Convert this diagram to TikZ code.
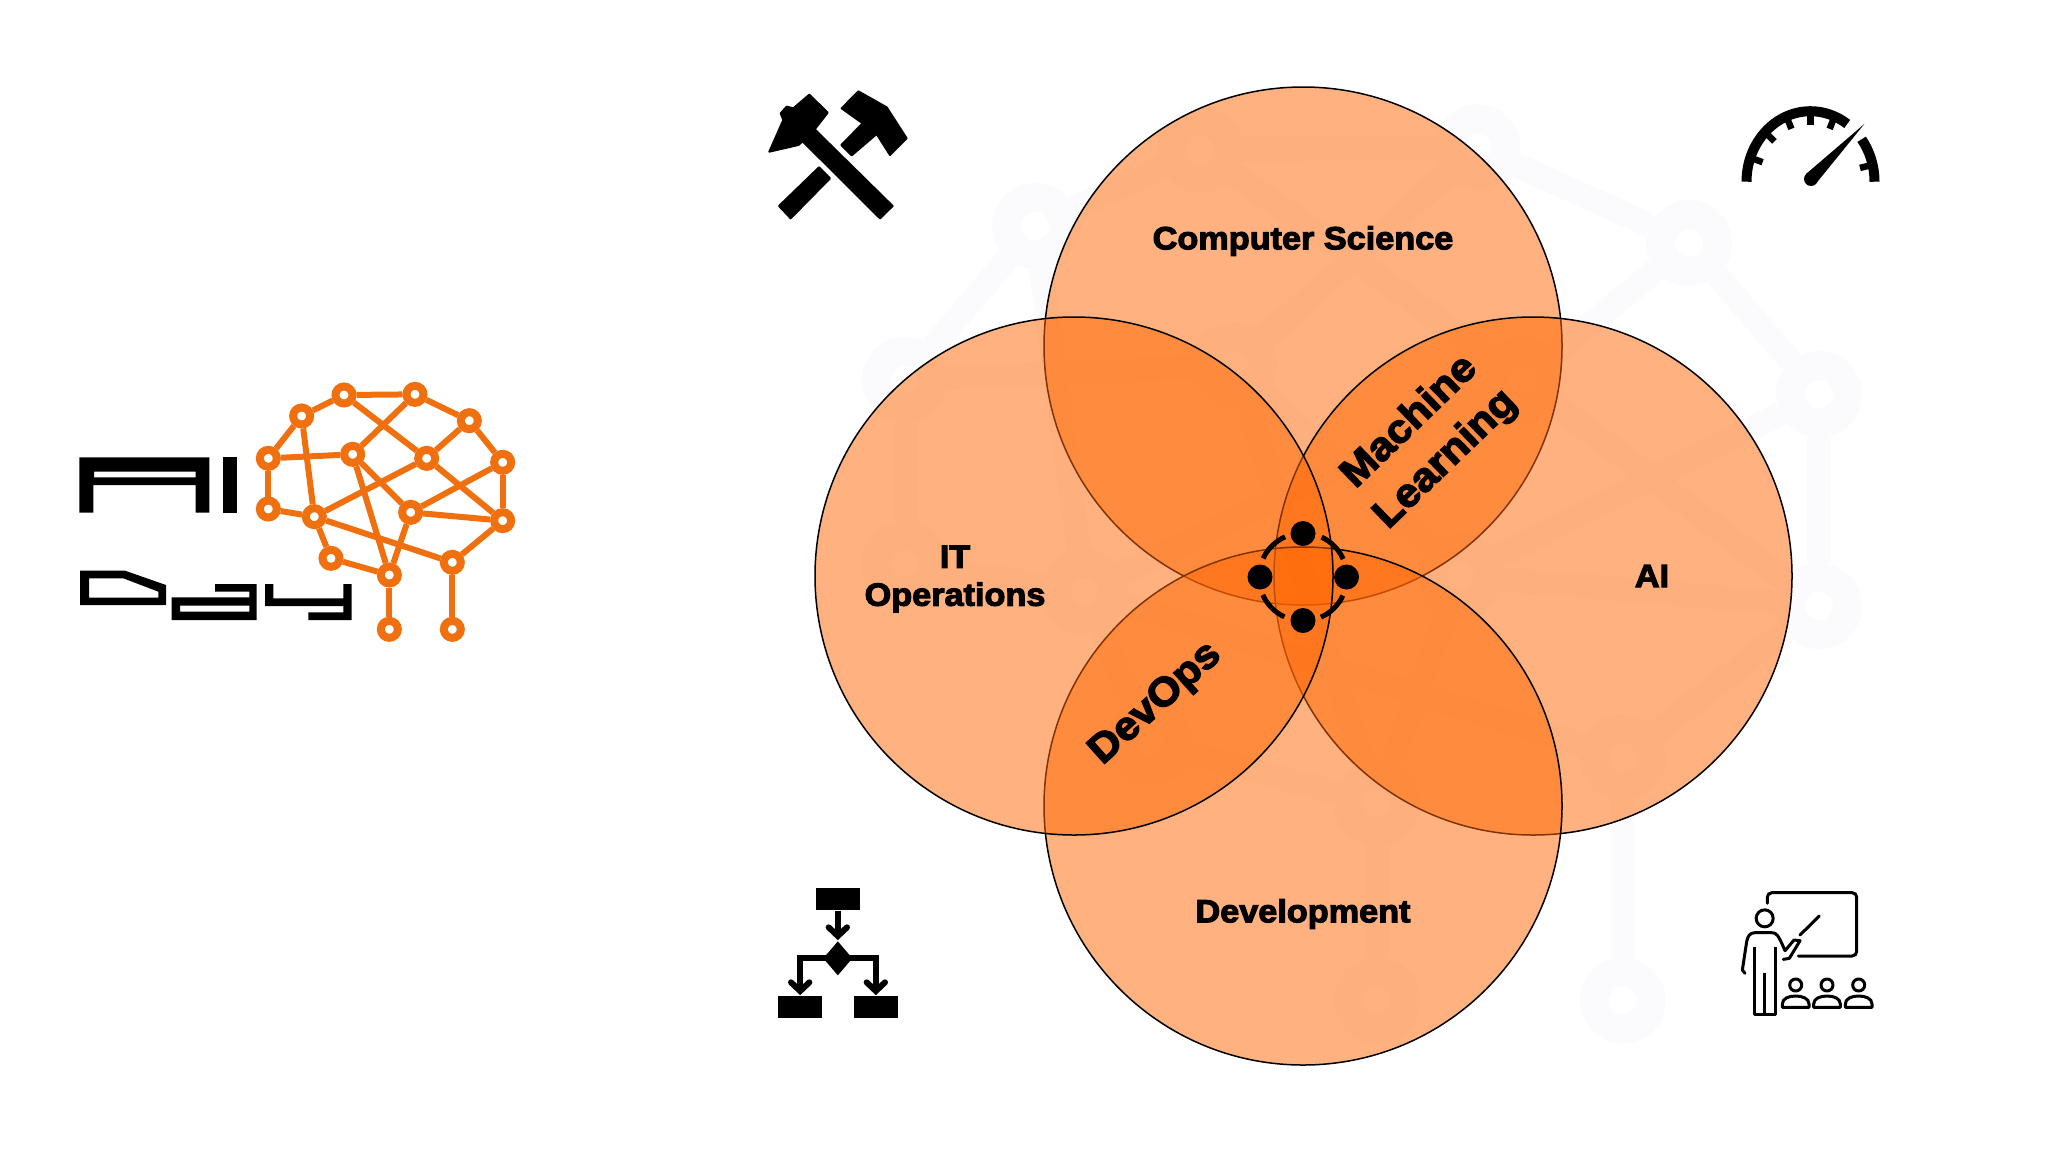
\documentclass[tikz,border=0pt]{standalone}
\usepackage{fontspec}
\newfontfamily\heavy[FakeBold=3.5,FakeStretch=1.07]{Liberation Sans Bold}
\usetikzlibrary{calc}
\definecolor{venn}{HTML}{FF6600}
\definecolor{brainor}{HTML}{F0700F}
\definecolor{ghost}{HTML}{FBFBFD}
\tikzset{
  vennc/.style={circle,draw=black,line width=1.5pt,fill=venn,fill opacity=.5,draw opacity=1,minimum size=518pt,inner sep=0pt,outer sep=0pt},
  lab/.style={text=black,inner sep=0pt,align=center,font=\heavy\fontsize{32}{38}\selectfont},
  biglab/.style={text=black,inner sep=0pt,align=center,font=\heavy\fontsize{40}{52}\selectfont},
  logodot/.style={circle,draw=brainor,fill=white,line width=8pt,minimum size=17pt,inner sep=0pt},
  logoedge/.style={draw=brainor,line width=6pt},
  ghostdot/.style={circle,draw=ghost,fill=white,line width=29pt,minimum size=57pt,inner sep=0pt},
  ghostedge/.style={draw=ghost,line width=24pt},
  teamdot/.style={circle,fill=black,minimum size=25pt,inner sep=0pt},
  iconline/.style={draw=black,line width=3pt,line join=round},
  flowline/.style={draw=black,line width=6pt,line cap=round,line join=miter},
  altlabel/.style={opacity=0,inner sep=0pt,font=\heavy\fontsize{30}{30}\selectfont},
}
\newcommand{\brainnet}[3]{%
  \foreach \n/\px/\py in {a/882/105,b/1095/103,c/755/168,d/1258/182,e/655/295,f/908/283,g/1130/295,h/1358/307,i/655/447,j/793/470,k/1082/457,l/1358/482,m/843/595,n/1207/607,o/1018/645,p/1018/808,q/1207/808}{
    \node[#2] (#1\n) at (\px,\py) {};
  }
  \foreach \s/\t in {a/b,a/c,b/d,c/e,d/h,e/i,h/l,e/f,c/j,a/g,g/l,b/f,f/k,g/d,g/j,h/k,k/l,i/j,j/m,m/o,j/n,n/l,f/o,k/o,o/p,n/q}{
    \draw[#3] (#1\s) -- (#1\t);
  }
}
\begin{document}
\begin{tikzpicture}[x=1pt,y=-1pt]
\useasboundingbox (0,0) rectangle (2048,1152);
\fill[white] (0,0) rectangle (2048,1152);
% faint watermark of the logo behind the circles
\begin{scope}[shift={(53.6,22.8)},x=1.3pt,y=-1.21pt]
  \brainnet{w}{ghostdot}{ghostedge}
\end{scope}
% Venn circles
\node[vennc] (top) at (1303,346) {};
\node[vennc] (right) at (1533,576) {};
\node[vennc] (bottom) at (1303,806) {};
\node[vennc] (left) at (1074,576) {};
% labels
\node[lab] (cs) at (1303,241) {Computer Science};
\node[lab] (it) at (955,579) {IT\\Operations};
\node[lab] (ai) at (1652,576) {AI};
\node[lab] (dev) at (1303,914) {Development};
\node[biglab,rotate=42] (devops) at (1156,704) {DevOps};
\node[biglab,rotate=44] (ml) at (1428,441) {Machine\\Learning};
% team icon in the centre
\node[teamdot] (t1) at (1303,533.5) {};
\node[teamdot] (t2) at (1303,620.5) {};
\node[teamdot] (t3) at (1260,577) {};
\node[teamdot] (t4) at (1346.5,577) {};
\coordinate (tc) at (1303,577);
\foreach \st in {24,114,204,294}{
  \draw[black,line width=5pt] ($(tc)+(\st:44 and -44)$) arc[start angle=\st,end angle=\st+41,radius=44pt];
}
% logo: the lettering is drawn as artwork; the transparent nodes carry its words as text
\begin{scope}[shift={(50,360)},x=0.33333pt,y=-0.33333pt]
  \brainnet{b}{logodot}{logoedge}
  \fill[black,even odd rule] (88,292) -- (478,292) -- (478,458) -- (437,458) -- (437,375) -- (130,375) -- (130,458) -- (88,458) -- cycle
    (132,335) -- (437,335) -- (437,352) -- (132,352) -- cycle;
  \fill[black] (518,292) rectangle (560,458);
  \node[altlabel] (logoai) at (324,375) {AI};
\end{scope}
\begin{scope}[shift={(70,560)},x=0.33333pt,y=-0.33333pt]
  \fill[black,even odd rule] (30,32) -- (165,32) -- (288,75) -- (288,135) -- (30,135) -- cycle
    (57,55) -- (160,55) -- (265,95) -- (265,113) -- (57,113) -- cycle;
  \fill[black,even odd rule] (435,72) -- (560,72) -- (560,180) -- (305,180) -- (305,112) -- (538,112) -- (538,95) -- (435,95) -- cycle
    (330,137) -- (538,137) -- (538,155) -- (330,155) -- cycle;
  \fill[black] (585,72) -- (610,72) -- (610,115) -- (820,115) -- (820,72) -- (845,72) -- (845,180) -- (715,180) -- (715,157) -- (820,157) -- (820,138) -- (585,138) -- cycle;
  \node[altlabel] (logoday) at (437,105) {Day};
\end{scope}
% hammers
\begin{scope}[shift={(740,70)},x=0.33333pt,y=-0.33333pt]
  \fill[black,line join=round,draw=black,line width=2pt]
    (208,74) -- (263,128) -- (224,178) -- (458,408) -- (420,445) -- (188,214) -- (175,225) -- (88,245) -- (130,150) -- (122,130) -- (140,110) -- (160,115) -- cycle;
  \fill[black,line join=round,draw=black,line width=2pt]
    (355,64) -- (440,112) -- (500,205) -- (450,255) -- (410,192) -- (335,256) -- (304,225) -- (368,160) -- (305,115) -- cycle;
  \fill[black,line join=round,draw=black,line width=2pt]
    (237,292) -- (270,325) -- (152,445) -- (117,408) -- cycle;
\end{scope}
% gauge
\coordinate (gc) at (1810.5,181.7);
\draw[black,line width=10pt] ($(gc)+(-64,0)$) arc[start angle=180,end angle=55,x radius=64pt,y radius=70.5pt];
\draw[black,line width=10pt] ($(gc)+(64,0)$) arc[start angle=0,end angle=37,x radius=64pt,y radius=70.5pt];
\foreach \an in {14,68,90,112,135,160}{
  \draw[black,line width=6.5pt] ($(gc)+(\an:60 and -66)$) -- ($(gc)+(\an:51 and -57)$);
}
\fill[black] (1864.3,124) -- (1816,183.5) -- (1806,174) -- cycle;
\fill[black] (1811,179) circle[radius=7pt];
% flow chart
\begin{scope}[shift={(760,870)},x=0.33333pt,y=-0.33333pt]
  \node[fill=black,minimum width=44.3pt,minimum height=22pt,inner sep=0pt] (fa) at (233.5,88) {};
  \node[fill=black,minimum width=44.3pt,minimum height=22pt,inner sep=0pt] (fb) at (120.5,410.5) {};
  \node[fill=black,minimum width=44.3pt,minimum height=22pt,inner sep=0pt] (fc) at (347.5,410.5) {};
  \coordinate (fd) at (233.5,265);
  \fill[black] (233.5,214) -- (277,265) -- (233.5,316) -- (190,265) -- cycle;
  \draw[flowline,line cap=butt] (fa.south) -- (233.5,195);
  \draw[flowline] (206,172) -- (233.5,198) -- (261,172);
  \draw[flowline,line cap=butt] (fd) -- (120.5,265) -- (120.5,360);
  \draw[flowline] (93,337) -- (120.5,363) -- (148,337);
  \draw[flowline,line cap=butt] (fd) -- (347.5,265) -- (347.5,360);
  \draw[flowline] (320,337) -- (347.5,363) -- (375,337);
\end{scope}
% teacher
\begin{scope}[shift={(1730,880)},x=0.33333pt,y=-0.33333pt]
  \draw[iconline,line cap=round,rounded corners=4.5pt] (112,70) -- (112,38) -- (380,38) -- (380,228) -- (205,228);
  \draw[iconline] (104,115) circle[radius=8.5pt];
  \draw[iconline,line cap=round] (45,280) -- (37,270) -- (50,185) .. controls (53,168) and (60,158) .. (75,158) -- (125,158) .. controls (140,158) and (145,165) .. (165,212) -- (192,180) -- (210,182) -- (178,235) -- (160,238);
  \draw[iconline] (73,200) -- (73,402) -- (135,402) -- (135,200);
  \draw[iconline] (104,278) -- (104,402);
  \draw[iconline,line cap=round] (210,165) -- (268,108);
  \foreach \sx in {197,291,386}{
    \draw[iconline] (\sx,315) circle[radius=6pt];
    \draw[iconline] (\sx-40,382) -- (\sx-40,372) .. controls (\sx-40,355) and (\sx-20,348) .. (\sx,348) .. controls (\sx+20,348) and (\sx+40,355) .. (\sx+40,372) -- (\sx+40,382) -- cycle;
  }
\end{scope}
\end{tikzpicture}
\end{document}
